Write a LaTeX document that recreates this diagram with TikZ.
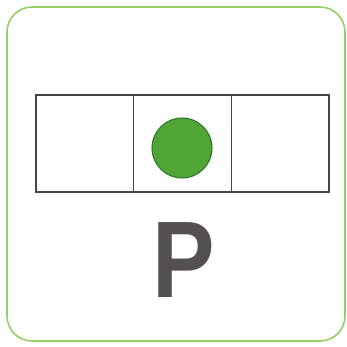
\documentclass[tikz,border=0pt]{standalone}
\usepackage{fontspec}
\setmainfont{Liberation Sans}
\usetikzlibrary{positioning}
\definecolor{frameGreen}{RGB}{150,205,100}
\definecolor{dotGreen}{RGB}{80,165,55}
\definecolor{dotEdge}{RGB}{45,115,40}
\definecolor{cellGray}{RGB}{70,70,70}
\definecolor{letterGray}{RGB}{85,80,80}
\tikzset{
  cell/.style={draw=cellGray, line width=0.9pt, minimum width=1.953cm, minimum height=1.94cm, inner sep=0pt, outer sep=0pt}
}
\begin{document}
\begin{tikzpicture}[x=0.02cm, y=-0.02cm]
  \useasboundingbox (0,0) rectangle (347,347);
  % outer frame
  \draw[frameGreen, line width=0.9pt, rounded corners=0.5cm] (7,7) rectangle (345,341);
  % three cells
  \node[cell] (cellM) at (182.5,143.5) {};
  \node[cell, left=0pt of cellM] (cellL) {};
  \node[cell, right=0pt of cellM] (cellR) {};
  % green dot in the middle cell
  \node[circle, fill=dotGreen, draw=dotEdge, line width=0.6pt, minimum size=1.2cm, inner sep=0pt] (dot) at (182,148) {};
  % letter
  \node[anchor=base, text=letterGray, inner sep=0pt, xscale=0.86, font=\bfseries\fontsize{62}{62}\selectfont] (letter) at (184,297) {P};
\end{tikzpicture}
\end{document}
